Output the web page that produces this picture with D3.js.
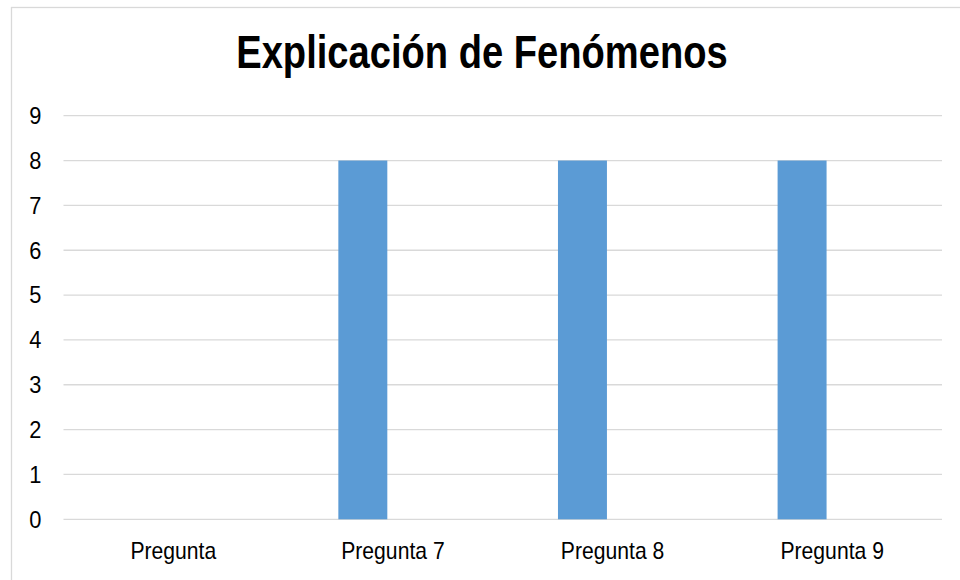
<!DOCTYPE html>
<html>
<head>
<meta charset="utf-8">
<script src="https://cdn.jsdelivr.net/npm/d3@7"></script>
<style>
  html, body { margin: 0; padding: 0; background: #fff; }
  svg { display: block; }
  text { font-family: "Liberation Sans", Arial, sans-serif; fill: #000; }
</style>
</head>
<body>
<svg id="chart" width="960" height="580"></svg>
<script>
const title = "Explicación de Fenómenos";
const categories = ["Pregunta", "Pregunta 7", "Pregunta 8", "Pregunta 9"];
const seriesNames = ["Serie 1", "Serie 2"];
const serie1 = [0, 8, 8, 8];
const serie2 = [0, 0, 0, 0];
const yTicks = [0, 1, 2, 3, 4, 5, 6, 7, 8, 9];

const svg = d3.select("#chart");
const W = 960, H = 580;
const margin = { left: 63.5, right: 18, top: 115.7, bottom: 60.7 };

// chart area border (extends beyond the picture on right/bottom)
svg.append("rect")
  .attr("x", 11.5).attr("y", 7.5)
  .attr("width", 1200).attr("height", 1200)
  .attr("fill", "none").attr("stroke", "#d9d9d9").attr("stroke-width", 1.3);

const x0 = d3.scaleBand().domain(categories)
  .range([margin.left, W - margin.right]).paddingInner(0).paddingOuter(0);
const x1 = d3.scaleBand().domain(seriesNames)
  .range([0, x0.bandwidth()]).paddingInner(0.1867).paddingOuter(0.917);
const y = d3.scaleLinear().domain([0, 9]).range([H - margin.bottom, margin.top]);

// gridlines
svg.append("g").selectAll("line").data(yTicks).join("line")
  .attr("x1", margin.left).attr("x2", W - margin.right)
  .attr("y1", d => y(d)).attr("y2", d => y(d))
  .attr("stroke", "#d9d9d9").attr("stroke-width", 1.3);

// bars
const rows = categories.map((c, i) => ({ cat: c, vals: [serie1[i], serie2[i]] }));
const colors = ["#5b9bd5", "#ed7d31"];
svg.append("g").selectAll("g").data(rows).join("g")
  .attr("transform", d => `translate(${x0(d.cat)},0)`)
  .selectAll("rect").data(d => d.vals.map((v, j) => ({ s: seriesNames[j], v, j })))
  .join("rect")
  .attr("x", d => x1(d.s))
  .attr("width", x1.bandwidth())
  .attr("y", d => y(d.v))
  .attr("height", d => y(0) - y(d.v))
  .attr("fill", d => colors[d.j]);

// y tick labels
svg.append("g").selectAll("text").data(yTicks).join("text")
  .attr("transform", d => `translate(41.5,${y(d)}) scale(0.95,1)`)
  .attr("text-anchor", "end")
  .attr("dy", "0.36em")
  .style("font-size", "23px")
  .text(d => d);

// x category labels
svg.append("g").selectAll("text").data(categories).join("text")
  .attr("transform", d => `translate(${x0(d) + x0.bandwidth() / 2},559.3) scale(0.92,1)`)
  .attr("text-anchor", "middle")
  .style("font-size", "23px")
  .text(d => d);

// title
svg.append("text")
  .attr("transform", `translate(482,67.7) scale(0.82,1)`)
  .attr("text-anchor", "middle")
  .style("font-size", "46.5px")
  .style("font-weight", "bold")
  .text(title);
</script>
</body>
</html>
